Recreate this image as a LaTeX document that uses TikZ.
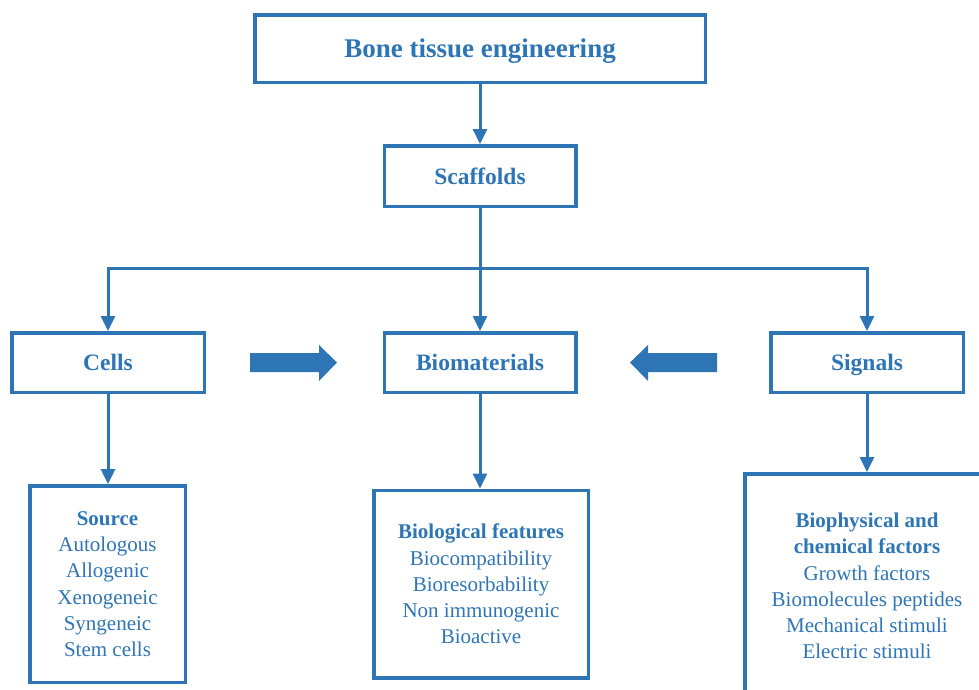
\documentclass[tikz,border=0pt]{standalone}
\usepackage{fontspec}
\setmainfont{Liberation Serif}
\usetikzlibrary{arrows.meta}
\definecolor{bblue}{RGB}{46,117,182}
\begin{document}
\begin{tikzpicture}[x=1pt,y=-1pt,
  box/.style={draw=bblue,line width=3.5pt,inner sep=0pt,align=center,text=bblue},
  conn/.style={draw=bblue,line width=3pt},
  arr/.style={conn,-{Triangle[length=15pt,width=14pt]}},
  big/.style={font=\fontsize{27}{32}\selectfont\bfseries,text depth=0pt},
  mid/.style={font=\fontsize{23.5}{28}\selectfont\bfseries,text depth=0pt},
  small/.style={font=\fontsize{21}{26.3}\selectfont}]
\useasboundingbox (0,0) rectangle (979,689);
\node[box,big,minimum width=450.5pt,minimum height=67.5pt] (top) at (480,48.5) {Bone tissue engineering};
\node[box,mid,minimum width=191.5pt,minimum height=60.5pt] (scaf) at (480,176) {Scaffolds};
\node[box,mid,minimum width=192.5pt,minimum height=59.5pt] (cells) at (108,362.5) {Cells};
\node[box,mid,minimum width=191.5pt,minimum height=59.5pt] (bio) at (480,362.5) {Biomaterials};
\node[box,mid,minimum width=192.5pt,minimum height=59.5pt] (sig) at (867,362.5) {Signals};
\node[box,small,minimum width=155.5pt,minimum height=196.5pt] (src) at (107.5,584) {\textbf{Source}\\Autologous\\Allogenic\\Xenogeneic\\Syngeneic\\Stem cells};
\node[box,small,minimum width=214.5pt,minimum height=187.5pt] (feat) at (481,584) {\textbf{Biological features}\\Biocompatibility\\Bioresorbability\\Non immunogenic\\Bioactive};
\node[box,small,minimum width=244.5pt,minimum height=224.5pt] (fact) at (867,586) {\textbf{Biophysical and}\\\textbf{chemical factors}\\Growth factors\\Biomolecules peptides\\Mechanical stimuli\\Electric stimuli};
\coordinate (j) at (480,268);
\draw[arr] (top) -- (scaf);
\draw[conn] (scaf) -- (j);
\draw[arr] (j) -| (cells);
\draw[arr] (j) -- (bio);
\draw[arr] (j) -| (sig);
\draw[arr] (cells) -- (src.north -| cells);
\draw[arr] (bio) -- (feat.north -| bio);
\draw[arr] (sig) -- (fact);
\fill[bblue] (250,353) -- (319,353) -- (319,345) -- (337,362.5) -- (319,381) -- (319,372) -- (250,372) -- cycle;
\fill[bblue] (717,353) -- (648,353) -- (648,345) -- (630,362.5) -- (648,381) -- (648,372) -- (717,372) -- cycle;
\end{tikzpicture}
\end{document}
